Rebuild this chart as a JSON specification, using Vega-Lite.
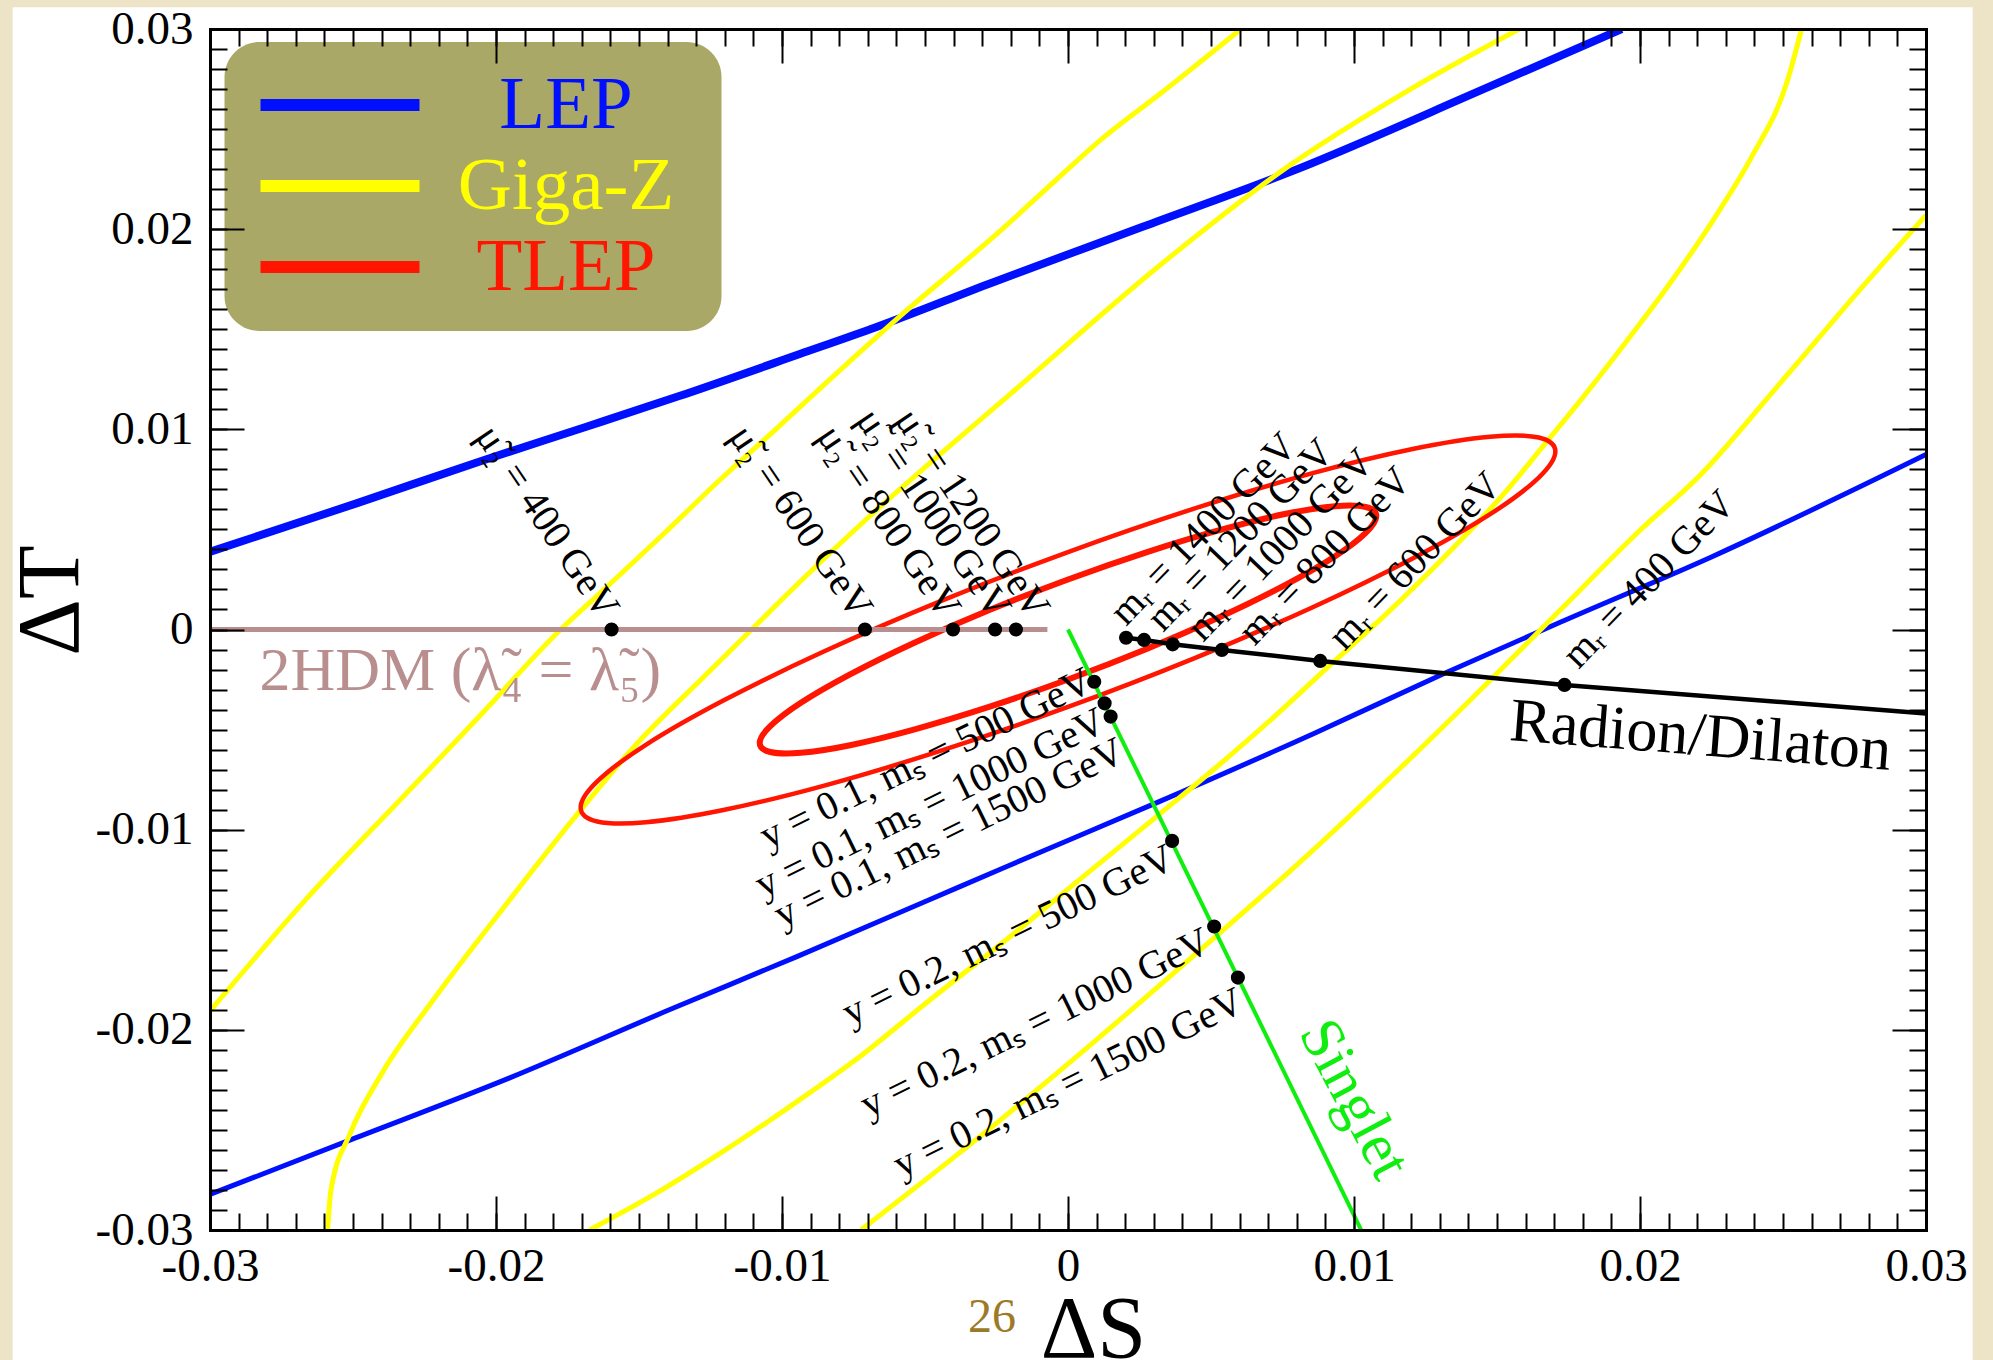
{
  "$schema": "https://vega.github.io/schema/vega-lite/v6.json",
  "width": 1716,
  "height": 1201,
  "autosize": {"type": "none"},
  "padding": {"left": 210, "top": 29, "right": 67, "bottom": 130},
  "background": "#ede3c7",
  "config": {"view": {"stroke": null}, "font": "Liberation Serif"},
  "datasets": {
    "curves": [
      {"exp": "LEP", "part": "LEP-a", "i": 1, "S": -0.03, "T": 0.00388},
      {"exp": "LEP", "part": "LEP-a", "i": 2, "S": -0.02488, "T": 0.0063},
      {"exp": "LEP", "part": "LEP-a", "i": 3, "S": -0.02041, "T": 0.00847},
      {"exp": "LEP", "part": "LEP-a", "i": 4, "S": -0.01684, "T": 0.01013},
      {"exp": "LEP", "part": "LEP-a", "i": 5, "S": -0.01362, "T": 0.01165},
      {"exp": "LEP", "part": "LEP-a", "i": 6, "S": -0.00938, "T": 0.01376},
      {"exp": "LEP", "part": "LEP-a", "i": 7, "S": -0.00672, "T": 0.0151},
      {"exp": "LEP", "part": "LEP-a", "i": 8, "S": -0.00273, "T": 0.01729},
      {"exp": "LEP", "part": "LEP-a", "i": 9, "S": 0.00261, "T": 0.02012},
      {"exp": "LEP", "part": "LEP-a", "i": 10, "S": 0.00793, "T": 0.02295},
      {"exp": "LEP", "part": "LEP-a", "i": 11, "S": 0.01459, "T": 0.02703},
      {"exp": "LEP", "part": "LEP-a", "i": 12, "S": 0.01936, "T": 0.03},
      {"exp": "LEP", "part": "LEP-b", "i": 1, "S": -0.03, "T": -0.02822},
      {"exp": "LEP", "part": "LEP-b", "i": 2, "S": -0.02509, "T": -0.0255},
      {"exp": "LEP", "part": "LEP-b", "i": 3, "S": -0.01952, "T": -0.0224},
      {"exp": "LEP", "part": "LEP-b", "i": 4, "S": -0.01394, "T": -0.019},
      {"exp": "LEP", "part": "LEP-b", "i": 5, "S": -0.00948, "T": -0.01634},
      {"exp": "LEP", "part": "LEP-b", "i": 6, "S": -0.00501, "T": -0.0136},
      {"exp": "LEP", "part": "LEP-b", "i": 7, "S": -0.00216, "T": -0.01185},
      {"exp": "LEP", "part": "LEP-b", "i": 8, "S": 0.00319, "T": -0.0086},
      {"exp": "LEP", "part": "LEP-b", "i": 9, "S": 0.00862, "T": -0.00518},
      {"exp": "LEP", "part": "LEP-b", "i": 10, "S": 0.01317, "T": -0.00219},
      {"exp": "LEP", "part": "LEP-b", "i": 11, "S": 0.01719, "T": 0.00035},
      {"exp": "LEP", "part": "LEP-b", "i": 12, "S": 0.02246, "T": 0.0036},
      {"exp": "LEP", "part": "LEP-b", "i": 13, "S": 0.03, "T": 0.00874},
      {"exp": "Giga-Z", "part": "GZ-La", "i": 1, "S": -0.03, "T": -0.01906},
      {"exp": "Giga-Z", "part": "GZ-La", "i": 2, "S": -0.02666, "T": -0.01351},
      {"exp": "Giga-Z", "part": "GZ-La", "i": 3, "S": -0.02309, "T": -0.00812},
      {"exp": "Giga-Z", "part": "GZ-La", "i": 4, "S": -0.02057, "T": -0.00432},
      {"exp": "Giga-Z", "part": "GZ-La", "i": 5, "S": -0.01774, "T": 0},
      {"exp": "Giga-Z", "part": "GZ-La", "i": 6, "S": -0.01617, "T": 0.00207},
      {"exp": "Giga-Z", "part": "GZ-La", "i": 7, "S": -0.01407, "T": 0.00487},
      {"exp": "Giga-Z", "part": "GZ-La", "i": 8, "S": -0.01225, "T": 0.00737},
      {"exp": "Giga-Z", "part": "GZ-La", "i": 9, "S": -0.01025, "T": 0.00996},
      {"exp": "Giga-Z", "part": "GZ-La", "i": 10, "S": -0.00843, "T": 0.01236},
      {"exp": "Giga-Z", "part": "GZ-La", "i": 11, "S": -0.00591, "T": 0.01561},
      {"exp": "Giga-Z", "part": "GZ-La", "i": 12, "S": -0.00245, "T": 0.01981},
      {"exp": "Giga-Z", "part": "GZ-La", "i": 13, "S": -0.00031, "T": 0.0226},
      {"exp": "Giga-Z", "part": "GZ-La", "i": 14, "S": 0.00101, "T": 0.0243},
      {"exp": "Giga-Z", "part": "GZ-La", "i": 15, "S": 0.00339, "T": 0.02695},
      {"exp": "Giga-Z", "part": "GZ-La", "i": 16, "S": 0.00605, "T": 0.03},
      {"exp": "Giga-Z", "part": "GZ-Lb", "i": 1, "S": -0.02589, "T": -0.03},
      {"exp": "Giga-Z", "part": "GZ-Lb", "i": 2, "S": -0.02577, "T": -0.028},
      {"exp": "Giga-Z", "part": "GZ-Lb", "i": 3, "S": -0.02509, "T": -0.02515},
      {"exp": "Giga-Z", "part": "GZ-Lb", "i": 4, "S": -0.02398, "T": -0.02215},
      {"exp": "Giga-Z", "part": "GZ-Lb", "i": 5, "S": -0.02219, "T": -0.0185},
      {"exp": "Giga-Z", "part": "GZ-Lb", "i": 6, "S": -0.01952, "T": -0.0135},
      {"exp": "Giga-Z", "part": "GZ-Lb", "i": 7, "S": -0.0172, "T": -0.0093},
      {"exp": "Giga-Z", "part": "GZ-Lb", "i": 8, "S": -0.01505, "T": -0.00567},
      {"exp": "Giga-Z", "part": "GZ-Lb", "i": 9, "S": -0.01274, "T": -0.00237},
      {"exp": "Giga-Z", "part": "GZ-Lb", "i": 10, "S": -0.01106, "T": 0},
      {"exp": "Giga-Z", "part": "GZ-Lb", "i": 11, "S": -0.00938, "T": 0.00237},
      {"exp": "Giga-Z", "part": "GZ-Lb", "i": 12, "S": -0.00708, "T": 0.00547},
      {"exp": "Giga-Z", "part": "GZ-Lb", "i": 13, "S": -0.00401, "T": 0.00932},
      {"exp": "Giga-Z", "part": "GZ-Lb", "i": 14, "S": -0.00203, "T": 0.01175},
      {"exp": "Giga-Z", "part": "GZ-Lb", "i": 15, "S": 0.00314, "T": 0.01811},
      {"exp": "Giga-Z", "part": "GZ-Lb", "i": 16, "S": 0.00766, "T": 0.0231},
      {"exp": "Giga-Z", "part": "GZ-Lb", "i": 17, "S": 0.01192, "T": 0.02695},
      {"exp": "Giga-Z", "part": "GZ-Lb", "i": 18, "S": 0.01578, "T": 0.03},
      {"exp": "Giga-Z", "part": "GZ-Ra", "i": 1, "S": -0.01673, "T": -0.03},
      {"exp": "Giga-Z", "part": "GZ-Ra", "i": 2, "S": -0.01438, "T": -0.02815},
      {"exp": "Giga-Z", "part": "GZ-Ra", "i": 3, "S": -0.01214, "T": -0.02615},
      {"exp": "Giga-Z", "part": "GZ-Ra", "i": 4, "S": -0.00969, "T": -0.0238},
      {"exp": "Giga-Z", "part": "GZ-Ra", "i": 5, "S": -0.00752, "T": -0.0216},
      {"exp": "Giga-Z", "part": "GZ-Ra", "i": 6, "S": -0.00483, "T": -0.01851},
      {"exp": "Giga-Z", "part": "GZ-Ra", "i": 7, "S": -0.00217, "T": -0.01551},
      {"exp": "Giga-Z", "part": "GZ-Ra", "i": 8, "S": 0.00052, "T": -0.01236},
      {"exp": "Giga-Z", "part": "GZ-Ra", "i": 9, "S": 0.00304, "T": -0.00941},
      {"exp": "Giga-Z", "part": "GZ-Ra", "i": 10, "S": 0.00507, "T": -0.00702},
      {"exp": "Giga-Z", "part": "GZ-Ra", "i": 11, "S": 0.00714, "T": -0.00445},
      {"exp": "Giga-Z", "part": "GZ-Ra", "i": 12, "S": 0.00917, "T": -0.00177},
      {"exp": "Giga-Z", "part": "GZ-Ra", "i": 13, "S": 0.01116, "T": 0.00082},
      {"exp": "Giga-Z", "part": "GZ-Ra", "i": 14, "S": 0.01316, "T": 0.00362},
      {"exp": "Giga-Z", "part": "GZ-Ra", "i": 15, "S": 0.01519, "T": 0.0067},
      {"exp": "Giga-Z", "part": "GZ-Ra", "i": 16, "S": 0.01679, "T": 0.00947},
      {"exp": "Giga-Z", "part": "GZ-Ra", "i": 17, "S": 0.01785, "T": 0.01132},
      {"exp": "Giga-Z", "part": "GZ-Ra", "i": 18, "S": 0.01991, "T": 0.01511},
      {"exp": "Giga-Z", "part": "GZ-Ra", "i": 19, "S": 0.021, "T": 0.0172},
      {"exp": "Giga-Z", "part": "GZ-Ra", "i": 20, "S": 0.02285, "T": 0.0211},
      {"exp": "Giga-Z", "part": "GZ-Ra", "i": 21, "S": 0.0239, "T": 0.0236},
      {"exp": "Giga-Z", "part": "GZ-Ra", "i": 22, "S": 0.02515, "T": 0.0274},
      {"exp": "Giga-Z", "part": "GZ-Ra", "i": 23, "S": 0.02565, "T": 0.03},
      {"exp": "Giga-Z", "part": "GZ-Rb", "i": 1, "S": -0.00724, "T": -0.03},
      {"exp": "Giga-Z", "part": "GZ-Rb", "i": 2, "S": -0.00266, "T": -0.02485},
      {"exp": "Giga-Z", "part": "GZ-Rb", "i": 3, "S": 0.00091, "T": -0.0206},
      {"exp": "Giga-Z", "part": "GZ-Rb", "i": 4, "S": 0.00462, "T": -0.01601},
      {"exp": "Giga-Z", "part": "GZ-Rb", "i": 5, "S": 0.00812, "T": -0.01161},
      {"exp": "Giga-Z", "part": "GZ-Rb", "i": 6, "S": 0.01162, "T": -0.00692},
      {"exp": "Giga-Z", "part": "GZ-Rb", "i": 7, "S": 0.01442, "T": -0.00302},
      {"exp": "Giga-Z", "part": "GZ-Rb", "i": 8, "S": 0.01721, "T": 0.00097},
      {"exp": "Giga-Z", "part": "GZ-Rb", "i": 9, "S": 0.02001, "T": 0.00497},
      {"exp": "Giga-Z", "part": "GZ-Rb", "i": 10, "S": 0.02211, "T": 0.00772},
      {"exp": "Giga-Z", "part": "GZ-Rb", "i": 11, "S": 0.02442, "T": 0.0115},
      {"exp": "Giga-Z", "part": "GZ-Rb", "i": 12, "S": 0.02603, "T": 0.0142},
      {"exp": "Giga-Z", "part": "GZ-Rb", "i": 13, "S": 0.02789, "T": 0.0173},
      {"exp": "Giga-Z", "part": "GZ-Rb", "i": 14, "S": 0.03, "T": 0.0207},
      {"exp": "TLEP", "part": "TLEP-outer", "i": 1, "S": 0.01704, "T": 0.00889},
      {"exp": "TLEP", "part": "TLEP-outer", "i": 2, "S": 0.01646, "T": 0.00959},
      {"exp": "TLEP", "part": "TLEP-outer", "i": 3, "S": 0.01476, "T": 0.00963},
      {"exp": "TLEP", "part": "TLEP-outer", "i": 4, "S": 0.01205, "T": 0.00902},
      {"exp": "TLEP", "part": "TLEP-outer", "i": 5, "S": 0.00852, "T": 0.0078},
      {"exp": "TLEP", "part": "TLEP-outer", "i": 6, "S": 0.00441, "T": 0.00604},
      {"exp": "TLEP", "part": "TLEP-outer", "i": 7, "S": 0, "T": 0.00387},
      {"exp": "TLEP", "part": "TLEP-outer", "i": 8, "S": -0.00441, "T": 0.00144},
      {"exp": "TLEP", "part": "TLEP-outer", "i": 9, "S": -0.00852, "T": -0.00109},
      {"exp": "TLEP", "part": "TLEP-outer", "i": 10, "S": -0.01205, "T": -0.00355},
      {"exp": "TLEP", "part": "TLEP-outer", "i": 11, "S": -0.01476, "T": -0.00576},
      {"exp": "TLEP", "part": "TLEP-outer", "i": 12, "S": -0.01646, "T": -0.00759},
      {"exp": "TLEP", "part": "TLEP-outer", "i": 13, "S": -0.01704, "T": -0.00889},
      {"exp": "TLEP", "part": "TLEP-outer", "i": 14, "S": -0.01646, "T": -0.00959},
      {"exp": "TLEP", "part": "TLEP-outer", "i": 15, "S": -0.01476, "T": -0.00963},
      {"exp": "TLEP", "part": "TLEP-outer", "i": 16, "S": -0.01205, "T": -0.00902},
      {"exp": "TLEP", "part": "TLEP-outer", "i": 17, "S": -0.00852, "T": -0.0078},
      {"exp": "TLEP", "part": "TLEP-outer", "i": 18, "S": -0.00441, "T": -0.00604},
      {"exp": "TLEP", "part": "TLEP-outer", "i": 19, "S": 0, "T": -0.00387},
      {"exp": "TLEP", "part": "TLEP-outer", "i": 20, "S": 0.00441, "T": -0.00144},
      {"exp": "TLEP", "part": "TLEP-outer", "i": 21, "S": 0.00852, "T": 0.00109},
      {"exp": "TLEP", "part": "TLEP-outer", "i": 22, "S": 0.01205, "T": 0.00355},
      {"exp": "TLEP", "part": "TLEP-outer", "i": 23, "S": 0.01476, "T": 0.00576},
      {"exp": "TLEP", "part": "TLEP-outer", "i": 24, "S": 0.01646, "T": 0.00759},
      {"exp": "TLEP", "part": "TLEP-inner", "i": 1, "S": 0.01078, "T": 0.00567},
      {"exp": "TLEP", "part": "TLEP-inner", "i": 2, "S": 0.01041, "T": 0.00612},
      {"exp": "TLEP", "part": "TLEP-inner", "i": 3, "S": 0.00934, "T": 0.00616},
      {"exp": "TLEP", "part": "TLEP-inner", "i": 4, "S": 0.00762, "T": 0.00578},
      {"exp": "TLEP", "part": "TLEP-inner", "i": 5, "S": 0.00539, "T": 0.005},
      {"exp": "TLEP", "part": "TLEP-inner", "i": 6, "S": 0.00279, "T": 0.00388},
      {"exp": "TLEP", "part": "TLEP-inner", "i": 7, "S": 0, "T": 0.0025},
      {"exp": "TLEP", "part": "TLEP-inner", "i": 8, "S": -0.00279, "T": 0.00095},
      {"exp": "TLEP", "part": "TLEP-inner", "i": 9, "S": -0.00539, "T": -0.00067},
      {"exp": "TLEP", "part": "TLEP-inner", "i": 10, "S": -0.00762, "T": -0.00224},
      {"exp": "TLEP", "part": "TLEP-inner", "i": 11, "S": -0.00934, "T": -0.00366},
      {"exp": "TLEP", "part": "TLEP-inner", "i": 12, "S": -0.01041, "T": -0.00483},
      {"exp": "TLEP", "part": "TLEP-inner", "i": 13, "S": -0.01078, "T": -0.00567},
      {"exp": "TLEP", "part": "TLEP-inner", "i": 14, "S": -0.01041, "T": -0.00612},
      {"exp": "TLEP", "part": "TLEP-inner", "i": 15, "S": -0.00934, "T": -0.00616},
      {"exp": "TLEP", "part": "TLEP-inner", "i": 16, "S": -0.00762, "T": -0.00578},
      {"exp": "TLEP", "part": "TLEP-inner", "i": 17, "S": -0.00539, "T": -0.005},
      {"exp": "TLEP", "part": "TLEP-inner", "i": 18, "S": -0.00279, "T": -0.00388},
      {"exp": "TLEP", "part": "TLEP-inner", "i": 19, "S": 0, "T": -0.0025},
      {"exp": "TLEP", "part": "TLEP-inner", "i": 20, "S": 0.00279, "T": -0.00095},
      {"exp": "TLEP", "part": "TLEP-inner", "i": 21, "S": 0.00539, "T": 0.00067},
      {"exp": "TLEP", "part": "TLEP-inner", "i": 22, "S": 0.00762, "T": 0.00224},
      {"exp": "TLEP", "part": "TLEP-inner", "i": 23, "S": 0.00934, "T": 0.00366},
      {"exp": "TLEP", "part": "TLEP-inner", "i": 24, "S": 0.01041, "T": 0.00483}
    ],
    "models": [
      {"model": "2HDM", "i": 1, "S": -0.03, "T": 0},
      {"model": "2HDM", "i": 2, "S": -0.00072, "T": 0},
      {"model": "Singlet", "i": 1, "S": 0, "T": 0},
      {"model": "Singlet", "i": 2, "S": 0.01025, "T": -0.03},
      {"model": "Radion", "i": 1, "S": 0.00203, "T": -0.00041},
      {"model": "Radion", "i": 2, "S": 0.00266, "T": -0.00052},
      {"model": "Radion", "i": 3, "S": 0.00366, "T": -0.00074},
      {"model": "Radion", "i": 4, "S": 0.00538, "T": -0.00102},
      {"model": "Radion", "i": 5, "S": 0.00882, "T": -0.00157},
      {"model": "Radion", "i": 6, "S": 0.01736, "T": -0.00277},
      {"model": "Radion", "i": 7, "S": 0.03, "T": -0.0042}
    ],
    "points": [
      {"model": "2HDM", "mass": 400, "S": -0.01596, "T": 0},
      {"model": "2HDM", "mass": 600, "S": -0.0071, "T": 0},
      {"model": "2HDM", "mass": 800, "S": -0.00402, "T": 0},
      {"model": "2HDM", "mass": 1000, "S": -0.00255, "T": 0},
      {"model": "2HDM", "mass": 1200, "S": -0.00182, "T": 0},
      {"model": "Radion", "mass": 1400, "S": 0.00203, "T": -0.00041},
      {"model": "Radion", "mass": 1200, "S": 0.00266, "T": -0.00052},
      {"model": "Radion", "mass": 1000, "S": 0.00366, "T": -0.00074},
      {"model": "Radion", "mass": 800, "S": 0.00538, "T": -0.00102},
      {"model": "Radion", "mass": 600, "S": 0.00882, "T": -0.00157},
      {"model": "Radion", "mass": 400, "S": 0.01736, "T": -0.00277},
      {"model": "Singlet y=0.1", "mass": 500, "S": 0.000917, "T": -0.00261},
      {"model": "Singlet y=0.1", "mass": 1000, "S": 0.00128, "T": -0.00369},
      {"model": "Singlet y=0.1", "mass": 1500, "S": 0.00149, "T": -0.00435},
      {"model": "Singlet y=0.2", "mass": 500, "S": 0.00364, "T": -0.01056},
      {"model": "Singlet y=0.2", "mass": 1000, "S": 0.00511, "T": -0.01484},
      {"model": "Singlet y=0.2", "mass": 1500, "S": 0.00594, "T": -0.01739}
    ],
    "labels": [
      {"group": "mu", "text": "\u03bc\u0303\u2082 = 400 GeV", "S": -0.01638, "T": 0.0004},
      {"group": "mu", "text": "\u03bc\u0303\u2082 = 600 GeV", "S": -0.00752, "T": 0.0004},
      {"group": "mu", "text": "\u03bc\u0303\u2082 = 800 GeV", "S": -0.00444, "T": 0.0004},
      {"group": "mu", "text": "\u03bc\u0303\u2082 = 1000 GeV", "S": -0.00269, "T": 0.0004},
      {"group": "mu", "text": "\u03bc\u0303\u2082 = 1200 GeV", "S": -0.00133, "T": 0.0004},
      {"group": "mr", "text": "m\u1d63 = 1400 GeV", "S": 0.00203, "T": 0.000125},
      {"group": "mr", "text": "m\u1d63 = 1200 GeV", "S": 0.00332, "T": -0.00017},
      {"group": "mr", "text": "m\u1d63 = 1000 GeV", "S": 0.00472, "T": -0.00067},
      {"group": "mr", "text": "m\u1d63 = 800 GeV", "S": 0.00652, "T": -0.00086},
      {"group": "mr", "text": "m\u1d63 = 600 GeV", "S": 0.00967, "T": -0.00111},
      {"group": "mr", "text": "m\u1d63 = 400 GeV", "S": 0.01785, "T": -0.00202},
      {"group": "ys", "text": "y = 0.1, m\u209b = 500 GeV", "S": 0.000934, "T": -0.00302},
      {"group": "ys", "text": "y = 0.1, m\u209b = 1000 GeV", "S": 0.0014, "T": -0.00502},
      {"group": "ys", "text": "y = 0.1, m\u209b = 1500 GeV", "S": 0.002064, "T": -0.00652},
      {"group": "ys", "text": "y = 0.2, m\u209b = 500 GeV", "S": 0.003814, "T": -0.01186},
      {"group": "ys", "text": "y = 0.2, m\u209b = 1000 GeV", "S": 0.005073, "T": -0.01601},
      {"group": "ys", "text": "y = 0.2, m\u209b = 1500 GeV", "S": 0.006228, "T": -0.01901},
      {"group": "2hdm", "text": "2HDM (\u03bb\u0303\u2084 = \u03bb\u0303\u2085)", "S": -0.02827, "T": -0.00302},
      {"group": "radion", "text": "Radion/Dilaton", "S": 0.0154, "T": -0.00552},
      {"group": "singlet", "text": "Singlet", "S": 0.00805, "T": -0.02015}
    ]
  },
  "layer": [
    {
      "data": {"values": [{"panel": "page"}]},
      "mark": {"type": "rect", "fill": "#ffffff"},
      "encoding": {
        "x": {"datum": -0.0369, "type": "quantitative", "scale": {"domain": [-0.03, 0.03], "nice": false, "zero": false}, "axis": null},
        "x2": {"datum": 0.03163},
        "y": {"datum": 0.03109, "type": "quantitative", "scale": {"domain": [-0.03, 0.03], "nice": false, "zero": false}, "axis": null},
        "y2": {"datum": -0.0372}
      }
    },
    {
      "data": {"name": "curves"},
      "transform": [{"filter": "datum.part === 'LEP-a'"}],
      "mark": {"type": "line", "strokeWidth": 8, "strokeJoin": "round", "interpolate": "monotone", "clip": true},
      "encoding": {
        "x": {"field": "S", "type": "quantitative", "scale": {"domain": [-0.03, 0.03], "nice": false, "zero": false},
          "axis": {"orient": "bottom", "values": [-0.03, -0.02, -0.01, 0, 0.01, 0.02, 0.03], "ticks": false, "grid": false,
            "domain": true, "domainColor": "#000000", "domainWidth": 3, "domainCap": "square",
            "labelFont": "Liberation Serif", "labelFontSize": 47, "labelColor": "#000000", "labelPadding": 13,
            "labelFlush": false, "labelOverlap": false,
            "labelExpr": "datum.value === 0 ? '0' : (datum.value < 0 ? '-' : '') + format(abs(datum.value), '.2f')",
            "title": "\u0394S", "titleFont": "Liberation Serif", "titleFontSize": 88, "titleFontWeight": "normal", "titleColor": "#000000",
            "titleX": 883, "titleY": 126, "titleAlign": "center", "titleBaseline": "alphabetic", "titleAngle": 0, "zindex": 1}},
        "y": {"field": "T", "type": "quantitative", "scale": {"domain": [-0.03, 0.03], "nice": false, "zero": false},
          "axis": {"orient": "left", "values": [-0.03, -0.02, -0.01, 0, 0.01, 0.02, 0.03], "ticks": false, "grid": false,
            "domain": true, "domainColor": "#000000", "domainWidth": 3, "domainCap": "square",
            "labelFont": "Liberation Serif", "labelFontSize": 47, "labelColor": "#000000", "labelPadding": 17,
            "labelFlush": false, "labelOverlap": false,
            "labelExpr": "datum.value === 0 ? '0' : (datum.value < 0 ? '-' : '') + format(abs(datum.value), '.2f')",
            "title": "\u0394T", "titleFont": "Liberation Serif", "titleFontSize": 88, "titleFontWeight": "normal", "titleColor": "#000000",
            "titleX": -133, "titleY": 571, "titleAlign": "center", "titleBaseline": "alphabetic", "titleAngle": -90, "zindex": 1}},
        "order": {"field": "i", "type": "quantitative"},
        "color": {"field": "exp", "type": "nominal",
          "scale": {"domain": ["LEP", "Giga-Z", "TLEP"], "range": ["#0010ff", "#ffff00", "#ff1500"]},
          "legend": {"orient": "none", "legendX": 14.5, "legendY": 13, "direction": "vertical",
            "title": "\u00a0", "titleOrient": "right", "titlePadding": 22, "titleFontSize": 1,
            "fillColor": "#a9a866", "cornerRadius": 35, "padding": 25.5, "strokeColor": null,
            "symbolType": "M-4,0H4", "symbolSize": 1580, "symbolStrokeWidth": 12, "symbolOffset": 52.5,
            "labelFont": "Liberation Serif", "labelFontSize": 75, "labelAlign": "center", "labelBaseline": "middle",
            "labelOffset": 188.5, "labelLimit": 500, "rowPadding": 5,
            "encode": {"labels": {"update": {"fill": {"scale": "color", "field": "value"}}},
                       "symbols": {"update": {"strokeWidth": {"value": 12}}}}}}
      }
    },
    {
      "data": {"name": "curves"},
      "transform": [{"filter": "datum.part === 'LEP-b'"}],
      "mark": {"type": "line", "strokeWidth": 5, "strokeJoin": "round", "interpolate": "monotone", "clip": true},
      "encoding": {
        "x": {"field": "S", "type": "quantitative", "scale": {"domain": [-0.03, 0.03], "nice": false, "zero": false},
          "axis": {"orient": "bottom", "values": [-0.03, -0.02, -0.01, 0, 0.01, 0.02, 0.03], "labels": false, "domain": false, "grid": false,
            "ticks": true, "tickSize": -34, "tickWidth": 2, "tickColor": "#000000", "title": null, "zindex": 1}},
        "y": {"field": "T", "type": "quantitative", "scale": {"domain": [-0.03, 0.03], "nice": false, "zero": false},
          "axis": {"orient": "left", "values": [-0.03, -0.02, -0.01, 0, 0.01, 0.02, 0.03], "labels": false, "domain": false, "grid": false,
            "ticks": true, "tickSize": -34, "tickWidth": 2, "tickColor": "#000000", "title": null, "zindex": 1}},
        "order": {"field": "i", "type": "quantitative"},
        "color": {"field": "exp", "type": "nominal", "scale": {"domain": ["LEP", "Giga-Z", "TLEP"], "range": ["#0010ff", "#ffff00", "#ff1500"]}}
      }
    },
    {
      "data": {"name": "curves"},
      "transform": [{"filter": "datum.exp === 'Giga-Z'"}],
      "mark": {"type": "line", "strokeWidth": 5, "strokeJoin": "round", "interpolate": "monotone", "clip": true},
      "encoding": {
        "x": {"field": "S", "type": "quantitative", "scale": {"domain": [-0.03, 0.03], "nice": false, "zero": false},
          "axis": {"orient": "bottom", "values": [-0.03,-0.029,-0.028,-0.027,-0.026,-0.025,-0.024,-0.023,-0.022,-0.021,-0.02,-0.019,-0.018,-0.017,-0.016,-0.015,-0.014,-0.013,-0.012,-0.011,-0.01,-0.009,-0.008,-0.007,-0.006,-0.005,-0.004,-0.003,-0.002,-0.001,0,0.001,0.002,0.003,0.004,0.005,0.006,0.007,0.008,0.009,0.01,0.011,0.012,0.013,0.014,0.015,0.016,0.017,0.018,0.019,0.02,0.021,0.022,0.023,0.024,0.025,0.026,0.027,0.028,0.029,0.03],
            "labels": false, "domain": false, "grid": false, "ticks": true, "tickSize": -17, "tickWidth": 2, "tickColor": "#000000", "title": null, "zindex": 1}},
        "y": {"field": "T", "type": "quantitative", "scale": {"domain": [-0.03, 0.03], "nice": false, "zero": false},
          "axis": {"orient": "left", "values": [-0.03,-0.029,-0.028,-0.027,-0.026,-0.025,-0.024,-0.023,-0.022,-0.021,-0.02,-0.019,-0.018,-0.017,-0.016,-0.015,-0.014,-0.013,-0.012,-0.011,-0.01,-0.009,-0.008,-0.007,-0.006,-0.005,-0.004,-0.003,-0.002,-0.001,0,0.001,0.002,0.003,0.004,0.005,0.006,0.007,0.008,0.009,0.01,0.011,0.012,0.013,0.014,0.015,0.016,0.017,0.018,0.019,0.02,0.021,0.022,0.023,0.024,0.025,0.026,0.027,0.028,0.029,0.03],
            "labels": false, "domain": false, "grid": false, "ticks": true, "tickSize": -17, "tickWidth": 2, "tickColor": "#000000", "title": null, "zindex": 1}},
        "detail": {"field": "part", "type": "nominal"},
        "order": {"field": "i", "type": "quantitative"},
        "color": {"field": "exp", "type": "nominal", "scale": {"domain": ["LEP", "Giga-Z", "TLEP"], "range": ["#0010ff", "#ffff00", "#ff1500"]}}
      }
    },
    {
      "data": {"name": "curves"},
      "transform": [{"filter": "datum.part === 'TLEP-outer'"}],
      "mark": {"type": "line", "strokeWidth": 4.5, "interpolate": "cardinal-closed", "clip": true},
      "encoding": {
        "x": {"field": "S", "type": "quantitative", "scale": {"domain": [-0.03, 0.03], "nice": false, "zero": false},
          "axis": {"orient": "top", "values": [-0.03, -0.02, -0.01, 0, 0.01, 0.02, 0.03], "labels": false, "grid": false,
            "domain": true, "domainColor": "#000000", "domainWidth": 3, "domainCap": "square",
            "ticks": true, "tickSize": -34, "tickWidth": 2, "tickColor": "#000000", "title": null, "zindex": 1}},
        "y": {"field": "T", "type": "quantitative", "scale": {"domain": [-0.03, 0.03], "nice": false, "zero": false},
          "axis": {"orient": "right", "values": [-0.03, -0.02, -0.01, 0, 0.01, 0.02, 0.03], "labels": false, "grid": false,
            "domain": true, "domainColor": "#000000", "domainWidth": 3, "domainCap": "square",
            "ticks": true, "tickSize": -34, "tickWidth": 2, "tickColor": "#000000", "title": null, "zindex": 1}},
        "order": {"field": "i", "type": "quantitative"},
        "color": {"field": "exp", "type": "nominal", "scale": {"domain": ["LEP", "Giga-Z", "TLEP"], "range": ["#0010ff", "#ffff00", "#ff1500"]}}
      }
    },
    {
      "data": {"name": "curves"},
      "transform": [{"filter": "datum.part === 'TLEP-inner'"}],
      "mark": {"type": "line", "strokeWidth": 6, "interpolate": "cardinal-closed", "clip": true},
      "encoding": {
        "x": {"field": "S", "type": "quantitative", "scale": {"domain": [-0.03, 0.03], "nice": false, "zero": false},
          "axis": {"orient": "top", "values": [-0.03,-0.029,-0.028,-0.027,-0.026,-0.025,-0.024,-0.023,-0.022,-0.021,-0.02,-0.019,-0.018,-0.017,-0.016,-0.015,-0.014,-0.013,-0.012,-0.011,-0.01,-0.009,-0.008,-0.007,-0.006,-0.005,-0.004,-0.003,-0.002,-0.001,0,0.001,0.002,0.003,0.004,0.005,0.006,0.007,0.008,0.009,0.01,0.011,0.012,0.013,0.014,0.015,0.016,0.017,0.018,0.019,0.02,0.021,0.022,0.023,0.024,0.025,0.026,0.027,0.028,0.029,0.03],
            "labels": false, "domain": false, "grid": false, "ticks": true, "tickSize": -17, "tickWidth": 2, "tickColor": "#000000", "title": null, "zindex": 1}},
        "y": {"field": "T", "type": "quantitative", "scale": {"domain": [-0.03, 0.03], "nice": false, "zero": false},
          "axis": {"orient": "right", "values": [-0.03,-0.029,-0.028,-0.027,-0.026,-0.025,-0.024,-0.023,-0.022,-0.021,-0.02,-0.019,-0.018,-0.017,-0.016,-0.015,-0.014,-0.013,-0.012,-0.011,-0.01,-0.009,-0.008,-0.007,-0.006,-0.005,-0.004,-0.003,-0.002,-0.001,0,0.001,0.002,0.003,0.004,0.005,0.006,0.007,0.008,0.009,0.01,0.011,0.012,0.013,0.014,0.015,0.016,0.017,0.018,0.019,0.02,0.021,0.022,0.023,0.024,0.025,0.026,0.027,0.028,0.029,0.03],
            "labels": false, "domain": false, "grid": false, "ticks": true, "tickSize": -17, "tickWidth": 2, "tickColor": "#000000", "title": null, "zindex": 1}},
        "order": {"field": "i", "type": "quantitative"},
        "color": {"field": "exp", "type": "nominal", "scale": {"domain": ["LEP", "Giga-Z", "TLEP"], "range": ["#0010ff", "#ffff00", "#ff1500"]}}
      }
    },
    {
      "data": {"name": "models"},
      "transform": [{"filter": "datum.model === '2HDM'"}],
      "mark": {"type": "line", "strokeWidth": 5, "color": "#b98e8e"},
      "encoding": {
        "x": {"field": "S", "type": "quantitative", "scale": {"domain": [-0.03, 0.03], "nice": false, "zero": false}, "axis": null},
        "y": {"field": "T", "type": "quantitative", "scale": {"domain": [-0.03, 0.03], "nice": false, "zero": false}, "axis": null},
        "order": {"field": "i", "type": "quantitative"}
      }
    },
    {
      "data": {"name": "models"},
      "transform": [{"filter": "datum.model === 'Singlet'"}],
      "mark": {"type": "line", "strokeWidth": 4, "color": "#10ee10", "clip": true},
      "encoding": {
        "x": {"field": "S", "type": "quantitative", "scale": {"domain": [-0.03, 0.03], "nice": false, "zero": false}, "axis": null},
        "y": {"field": "T", "type": "quantitative", "scale": {"domain": [-0.03, 0.03], "nice": false, "zero": false}, "axis": null},
        "order": {"field": "i", "type": "quantitative"}
      }
    },
    {
      "data": {"name": "models"},
      "transform": [{"filter": "datum.model === 'Radion'"}],
      "mark": {"type": "line", "strokeWidth": 4.5, "color": "#000000", "clip": true},
      "encoding": {
        "x": {"field": "S", "type": "quantitative", "scale": {"domain": [-0.03, 0.03], "nice": false, "zero": false}, "axis": null},
        "y": {"field": "T", "type": "quantitative", "scale": {"domain": [-0.03, 0.03], "nice": false, "zero": false}, "axis": null},
        "order": {"field": "i", "type": "quantitative"}
      }
    },
    {
      "data": {"name": "points"},
      "mark": {"type": "circle", "size": 200, "color": "#000000", "opacity": 1},
      "encoding": {
        "x": {"field": "S", "type": "quantitative", "scale": {"domain": [-0.03, 0.03], "nice": false, "zero": false}, "axis": null},
        "y": {"field": "T", "type": "quantitative", "scale": {"domain": [-0.03, 0.03], "nice": false, "zero": false}, "axis": null}
      }
    },
    {
      "data": {"name": "labels"},
      "transform": [{"filter": "datum.group === 'mu'"}],
      "mark": {"type": "text", "font": "Liberation Serif", "fontSize": 40, "angle": 56, "align": "right", "baseline": "alphabetic", "color": "#000000"},
      "encoding": {
        "x": {"field": "S", "type": "quantitative", "scale": {"domain": [-0.03, 0.03], "nice": false, "zero": false}, "axis": null},
        "y": {"field": "T", "type": "quantitative", "scale": {"domain": [-0.03, 0.03], "nice": false, "zero": false}, "axis": null},
        "text": {"field": "text", "type": "nominal"}
      }
    },
    {
      "data": {"name": "labels"},
      "transform": [{"filter": "datum.group === 'mr'"}],
      "mark": {"type": "text", "font": "Liberation Serif", "fontSize": 40, "angle": -46, "align": "left", "baseline": "alphabetic", "color": "#000000"},
      "encoding": {
        "x": {"field": "S", "type": "quantitative", "scale": {"domain": [-0.03, 0.03], "nice": false, "zero": false}, "axis": null},
        "y": {"field": "T", "type": "quantitative", "scale": {"domain": [-0.03, 0.03], "nice": false, "zero": false}, "axis": null},
        "text": {"field": "text", "type": "nominal"}
      }
    },
    {
      "data": {"name": "labels"},
      "transform": [{"filter": "datum.group === 'ys'"}],
      "mark": {"type": "text", "font": "Liberation Serif", "fontSize": 40, "angle": -26, "align": "right", "baseline": "alphabetic", "color": "#000000"},
      "encoding": {
        "x": {"field": "S", "type": "quantitative", "scale": {"domain": [-0.03, 0.03], "nice": false, "zero": false}, "axis": null},
        "y": {"field": "T", "type": "quantitative", "scale": {"domain": [-0.03, 0.03], "nice": false, "zero": false}, "axis": null},
        "text": {"field": "text", "type": "nominal"}
      }
    },
    {
      "data": {"name": "labels"},
      "transform": [{"filter": "datum.group === '2hdm'"}],
      "mark": {"type": "text", "font": "Liberation Serif", "fontSize": 62, "align": "left", "baseline": "alphabetic", "color": "#b98e8e"},
      "encoding": {
        "x": {"field": "S", "type": "quantitative", "scale": {"domain": [-0.03, 0.03], "nice": false, "zero": false}, "axis": null},
        "y": {"field": "T", "type": "quantitative", "scale": {"domain": [-0.03, 0.03], "nice": false, "zero": false}, "axis": null},
        "text": {"field": "text", "type": "nominal"}
      }
    },
    {
      "data": {"name": "labels"},
      "transform": [{"filter": "datum.group === 'radion'"}],
      "mark": {"type": "text", "font": "Liberation Serif", "fontSize": 62, "angle": 4.5, "align": "left", "baseline": "alphabetic", "color": "#000000"},
      "encoding": {
        "x": {"field": "S", "type": "quantitative", "scale": {"domain": [-0.03, 0.03], "nice": false, "zero": false}, "axis": null},
        "y": {"field": "T", "type": "quantitative", "scale": {"domain": [-0.03, 0.03], "nice": false, "zero": false}, "axis": null},
        "text": {"field": "text", "type": "nominal"}
      }
    },
    {
      "data": {"name": "labels"},
      "transform": [{"filter": "datum.group === 'singlet'"}],
      "mark": {"type": "text", "font": "Liberation Serif", "fontSize": 60, "angle": 62, "align": "left", "baseline": "alphabetic", "color": "#10ee10"},
      "encoding": {
        "x": {"field": "S", "type": "quantitative", "scale": {"domain": [-0.03, 0.03], "nice": false, "zero": false}, "axis": null},
        "y": {"field": "T", "type": "quantitative", "scale": {"domain": [-0.03, 0.03], "nice": false, "zero": false}, "axis": null},
        "text": {"field": "text", "type": "nominal"}
      }
    },
    {
      "data": {"values": [{"page": "26"}]},
      "mark": {"type": "text", "font": "Liberation Serif", "fontSize": 48, "align": "center", "baseline": "alphabetic", "color": "#9c7a28"},
      "encoding": {
        "x": {"datum": -0.00266, "type": "quantitative", "scale": {"domain": [-0.03, 0.03], "nice": false, "zero": false}, "axis": null},
        "y": {"datum": -0.03509, "type": "quantitative", "scale": {"domain": [-0.03, 0.03], "nice": false, "zero": false}, "axis": null},
        "text": {"field": "page", "type": "nominal"}
      }
    }
  ],
  "resolve": {"axis": {"x": "independent", "y": "independent"}}
}
